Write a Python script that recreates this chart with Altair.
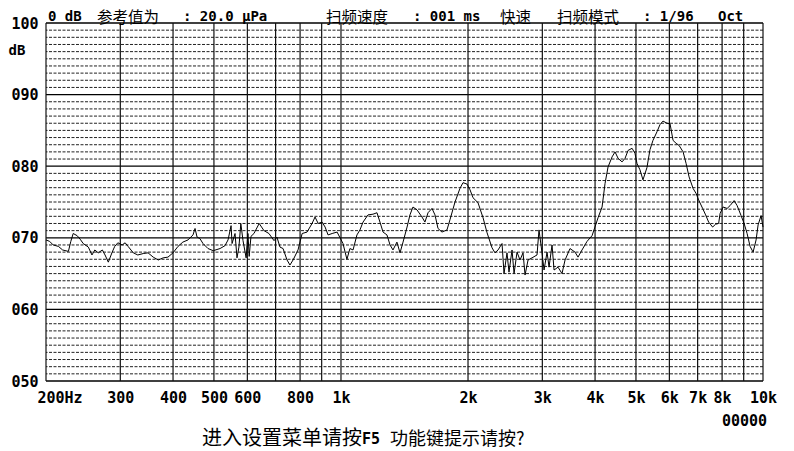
import altair as alt
import pandas as pd

# ---- data ----
freq_hz = [200, 204, 208, 214, 219, 226, 229, 232, 237, 241, 245, 252, 257, 261, 266, 272, 276, 281, 287, 291,
           296, 303, 308, 313, 322, 330, 340, 349, 359, 369, 379, 389, 400, 411, 422, 434, 446, 451, 456, 463,
           471, 484, 498, 517, 531, 540, 549, 552, 561, 567, 573, 579, 586, 596, 602, 606, 612, 622, 640, 657,
           675, 694, 705, 717, 729, 745, 757, 770, 791, 809, 831, 854, 868, 883, 902, 917, 932, 953, 979, 995,
           1011, 1033, 1050, 1068, 1091, 1109, 1128, 1159, 1191, 1217, 1237, 1258, 1285, 1307, 1328, 1357, 1380,
           1403, 1434, 1457, 1481, 1514, 1556, 1581, 1608, 1643, 1670, 1698, 1735, 1783, 1812, 1863, 1914, 1946,
           1989, 2022, 2055, 2112, 2171, 2219, 2280, 2317, 2356, 2408, 2434, 2474, 2501, 2543, 2571, 2613, 2656,
           2700, 2730, 2775, 2836, 2914, 2946, 2995, 3028, 3078, 3112, 3163, 3198, 3268, 3340, 3396, 3489, 3586,
           3645, 3725, 3829, 3935, 4066, 4156, 4224, 4294, 4389, 4461, 4535, 4635, 4711, 4789, 4895, 4973, 5027,
           5110, 5195, 5309, 5397, 5486, 5607, 5699, 5794, 5925, 6023, 6122, 6224, 6326, 6466, 6572, 6681, 6828,
           6941, 7038, 7194, 7312, 7433, 7597, 7722, 7850, 7913, 8044, 8221, 8357, 8541, 8682, 8874, 9020, 9169,
           9320, 9474, 9630, 9736, 9896, 10000]
level_db = [69.7, 69.5, 69.0, 68.8, 68.3, 68.1, 69.5, 70.6, 70.3, 69.8, 69.2, 68.7, 67.6, 68.3, 67.9, 68.3, 67.6,
            66.6, 68.0, 68.8, 69.3, 69.0, 69.3, 68.8, 67.9, 67.6, 67.8, 67.9, 67.3, 66.9, 67.2, 67.3, 67.9, 68.8,
            69.4, 69.7, 70.4, 71.3, 70.1, 69.9, 69.2, 68.5, 68.2, 68.5, 68.9, 69.7, 71.7, 69.2, 70.6, 67.2, 68.7,
            72.0, 69.6, 67.2, 70.6, 67.4, 70.2, 70.6, 72.0, 71.0, 70.6, 69.6, 70.1, 68.7, 68.5, 66.9, 66.2, 66.9,
            68.3, 70.6, 70.8, 72.0, 72.9, 72.0, 72.2, 71.5, 70.4, 70.6, 70.8, 70.0, 69.2, 67.0, 68.5, 68.3, 70.4,
            71.1, 72.2, 73.2, 73.3, 73.5, 72.2, 70.8, 70.4, 69.0, 68.3, 69.4, 67.9, 69.4, 71.5, 73.2, 74.3, 73.9,
            72.9, 72.2, 73.5, 74.1, 73.2, 71.3, 70.8, 71.1, 72.5, 75.0, 76.9, 77.7, 77.5, 76.7, 75.6, 74.9, 72.8,
            70.7, 68.6, 67.9, 68.3, 69.2, 65.0, 67.9, 65.2, 68.3, 65.0, 68.0, 66.9, 67.9, 64.8, 66.9, 67.2, 67.6,
            71.1, 67.9, 65.5, 68.0, 65.9, 69.0, 65.5, 65.9, 65.0, 66.9, 68.5, 68.0, 67.3, 68.3, 69.5, 70.3, 72.8,
            74.3, 77.6, 79.9, 81.3, 82.0, 81.1, 80.6, 81.1, 82.2, 82.5, 81.8, 80.4, 79.5, 78.1, 79.8, 82.3, 83.6,
            84.8, 85.8, 86.3, 86.0, 85.9, 83.6, 83.2, 82.9, 82.0, 80.4, 78.5, 76.9, 76.2, 75.3, 74.1, 73.2, 72.2,
            71.5, 71.9, 72.0, 73.4, 74.3, 74.1, 74.5, 75.2, 74.5, 73.1, 72.0, 70.6, 68.8, 68.0, 69.7, 71.8, 73.1,
            71.5]

grid_freqs = [200, 300, 400, 500, 600, 700, 800, 900, 1000, 2000, 3000, 4000, 5000, 6000, 7000, 8000, 9000, 10000]
label_freqs = [200, 300, 400, 500, 600, 800, 1000, 2000, 3000, 4000, 5000, 6000, 7000, 8000, 10000]
major_db = [50, 60, 70, 80, 90, 100]
minor_db = [d for d in range(51, 100) if d % 10]

header_left = ["0 dB", "参考值为", ": 20.0 μPa"]
header_right = ["扫频速度", ": 001 ms", "快速", "扫频模式", ": 1/96", "Oct"]
footer = ["进入设置菜单请按", "F5", "功能键提示请按?", "00000"]

LAT = "DejaVu Sans Mono"
CJK = "Noto Sans CJK SC"
CJK_HEAD = "DejaVu Sans, Noto Sans CJK SC"

xs = alt.Scale(type="log", domain=[200, 10000], nice=False)
ys = alt.Scale(domain=[50, 100], nice=False, zero=False)

x_axis = alt.Axis(
    values=label_freqs, title=None, grid=False, ticks=False, domain=False,
    labelExpr="datum.value == 200 ? '200Hz' : (datum.value >= 1000 ? format(datum.value / 1000, 'd') + 'k' : format(datum.value, 'd'))",
    labelFont=LAT, labelFontSize=15, labelFontWeight="bold", labelColor="black",
    labelPadding=9, labelOverlap=False, labelFlush=False,
    labelAlign={"condition": {"test": "datum.value == 200", "value": "left"}, "value": "center"},
    labelOffset={"condition": {"test": "datum.value == 200", "value": -9}, "value": 0},
)
y_axis = alt.Axis(
    values=major_db, grid=False, ticks=False, domain=False,
    labelExpr="format(datum.value, '03d')",
    labelFont=LAT, labelFontSize=15, labelFontWeight="bold", labelColor="black",
    labelPadding=8, labelOverlap=False, labelFlush=False,
    title="dB", titleAngle=0, titleAlign="left", titleBaseline="middle",
    titleX=-38, titleY=27, titleFont=LAT, titleFontSize=14, titleFontWeight="bold", titleColor="black",
)

X = alt.X("f:Q", scale=xs, axis=x_axis)
Y = alt.Y("db:Q", scale=ys, axis=y_axis)

minor = alt.Chart(pd.DataFrame({"db": minor_db})).mark_rule(
    color="#222", strokeWidth=1, strokeDash=[3, 1.5]
).encode(y=Y)

major = alt.Chart(pd.DataFrame({"db": major_db})).mark_rule(
    color="black", strokeWidth=1.3
).encode(y=Y)

vert = alt.Chart(pd.DataFrame({"f": grid_freqs})).mark_rule(
    color="#111", strokeWidth=1.2
).encode(x=X)

line = alt.Chart(pd.DataFrame({"f": freq_hz, "db": level_db})).mark_line(
    color="black", strokeWidth=1
).encode(x=X, y=Y)


def txt(s, px, py, font, size, weight="normal"):
    return alt.Chart(pd.DataFrame({"s": [s]})).mark_text(
        font=font, fontSize=size, fontWeight=weight, align="left",
        baseline="alphabetic", color="black"
    ).encode(x=alt.value(px), y=alt.value(py), text="s:N")


texts = [
    txt(header_left[0], 2, -2, LAT, 14, "bold"),
    txt(header_left[1], 51, -0.5, CJK_HEAD, 15.5),
    txt(header_left[2], 137, -2, LAT, 14, "bold"),
    txt(header_right[0], 280, -0.5, CJK_HEAD, 15.5),
    txt(header_right[1], 367, -2, LAT, 14, "bold"),
    txt(header_right[2], 454, -0.5, CJK_HEAD, 15.5),
    txt(header_right[3], 511, -0.5, CJK_HEAD, 15.5),
    txt(header_right[4], 597, -2, LAT, 14, "bold"),
    txt(header_right[5], 672, -2, LAT, 14, "bold"),
    txt(footer[0], 156, 422, CJK, 20),
    txt(footer[1], 316, 421, LAT, 15, "bold"),
    txt(footer[2], 344, 422, CJK, 18),
    txt(footer[3], 676, 403, LAT, 15, "bold"),
]

chart = alt.layer(minor, major, vert, line, *texts).properties(
    width=717, height=358,
    autosize=alt.AutoSizeParams(type="none"),
    padding={"left": 38, "top": 15, "right": 23, "bottom": 70},
    background="white",
).configure_view(stroke=None)

chart.save("out.html", embed_options={"renderer": "svg", "actions": False})
